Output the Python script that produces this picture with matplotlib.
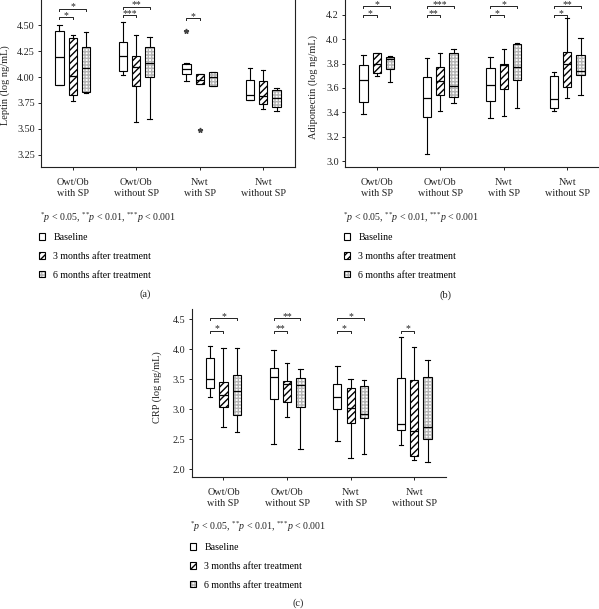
import matplotlib
matplotlib.use("Agg")
import matplotlib.pyplot as plt
from matplotlib.patches import Patch
from matplotlib.ticker import FormatStrFormatter
import numpy as np

plt.rcParams['font.family'] = ['Liberation Serif', 'DejaVu Serif']
plt.rcParams['mathtext.fontset'] = 'custom'
plt.rcParams['mathtext.rm'] = 'Liberation Serif'
plt.rcParams['mathtext.it'] = 'Liberation Serif:italic'
plt.rcParams['hatch.linewidth'] = 1.0

W, H = 599, 609

groups = ["Owt/Ob\nwith SP", "Owt/Ob\nwithout SP", "Nwt\nwith SP", "Nwt\nwithout SP"]
timepoints = ["Baseline", "3 months after treatment", "6 months after treatment"]

# box stats per group: [whisker low, q1, median, q3, whisker high]
leptin_base = [[3.92, 3.92, 4.19, 4.445, 4.50], [4.015, 4.06, 4.20, 4.34, 4.53],
               [3.965, 4.03, 4.08, 4.125, 4.135], [3.78, 3.78, 3.83, 3.97, 4.09]]
leptin_3m = [[3.77, 3.825, 4.01, 4.375, 4.41], [3.57, 3.915, 4.10, 4.20, 4.41],
             [3.935, 3.935, 3.97, 4.025, 4.025], [3.69, 3.74, 3.82, 3.963, 4.07]]
leptin_6m = [[3.845, 3.86, 4.085, 4.295, 4.44], [3.59, 4.00, 4.135, 4.295, 4.39],
             [3.91, 3.91, 4.00, 4.047, 4.047], [3.674, 3.71, 3.80, 3.873, 3.89]]
leptin_fliers = [[[], [], [4.45], []], [[], [], [3.49], []], [[], [], [], []]]
# (group, compared timepoint, bracket height, label)
leptin_sig = [(0, 1, 4.577, "*"), (0, 2, 4.66, "*"), (1, 1, 4.60, "***"),
              (1, 2, 4.68, "**"), (2, 1, 4.567, "*")]

adipo_base = [[3.39, 3.484, 3.662, 3.79, 3.867], [3.06, 3.361, 3.514, 3.686, 3.847],
              [3.358, 3.492, 3.626, 3.76, 3.853], [3.415, 3.44, 3.511, 3.697, 3.727]]
adipo_3m = [[3.697, 3.724, 3.80, 3.888, 3.888], [3.413, 3.544, 3.653, 3.768, 3.888],
            [3.372, 3.588, 3.79, 3.793, 3.916], [3.517, 3.604, 3.80, 3.891, 4.17]]
adipo_6m = [[3.65, 3.752, 3.835, 3.855, 3.86], [3.473, 3.525, 3.618, 3.883, 3.921],
            [3.44, 3.662, 3.768, 3.959, 3.965], [3.544, 3.708, 3.741, 3.867, 4.011]]
adipo_fliers = [[[], [], [], []], [[], [], [], []], [[], [], [], []]]
adipo_sig = [(0, 1, 4.197, "*"), (0, 2, 4.271, "*"), (1, 1, 4.197, "**"), (1, 2, 4.271, "***"),
             (2, 1, 4.197, "*"), (2, 2, 4.271, "*"), (3, 1, 4.197, "*"), (3, 2, 4.271, "**")]

crp_base = [[3.194, 3.344, 3.50, 3.85, 4.044], [2.411, 3.172, 3.528, 3.683, 3.978],
            [2.472, 3.006, 3.194, 3.417, 3.722], [2.406, 2.656, 2.756, 3.511, 4.194]]
crp_3m = [[2.70, 3.028, 3.228, 3.45, 4.017], [2.872, 3.122, 3.42, 3.461, 3.761],
          [2.189, 2.761, 3.011, 3.35, 3.506], [2.156, 2.217, 2.628, 3.483, 4.028]]
crp_6m = [[2.61, 2.906, 3.30, 3.572, 4.017], [2.333, 3.033, 3.394, 3.517, 3.661],
          [2.256, 2.844, 2.917, 3.389, 3.483], [2.117, 2.494, 2.70, 3.533, 3.811]]
crp_fliers = [[[], [], [], []], [[], [], [], []], [[], [], [], []]]
crp_sig = [(0, 1, 4.306, "*"), (0, 2, 4.517, "*"), (1, 1, 4.306, "**"), (1, 2, 4.517, "**"),
           (2, 1, 4.306, "*"), (2, 2, 4.517, "*"), (3, 1, 4.306, "*")]

offsets = [-0.21, 0.0, 0.21]
box_w = 0.13
grid_gray = '#b4b4b4'
ink = '#222'


def draw_panel(ax, series, fliers, sig, ylim, yticks, fmt):
    for k in range(3):
        pos = np.arange(1, 5) + offsets[k]
        bstats = []
        for g in range(4):
            lo, q1, med, q3, hi = series[k][g]
            bstats.append(dict(whislo=lo, q1=q1, med=med, q3=q3, whishi=hi, fliers=fliers[k][g]))
        if k == 2:
            # light dotted-grid fill under the 6-month boxes
            ax.bxp(bstats, positions=pos, widths=box_w, patch_artist=True, showcaps=False,
                   showfliers=False, manage_ticks=False,
                   boxprops=dict(facecolor='white', edgecolor=grid_gray, hatch='+++++', linewidth=0),
                   whiskerprops=dict(linewidth=0), medianprops=dict(linewidth=0))
        face = 'none' if k == 2 else 'white'
        hatch = '/////' if k == 1 else None
        ax.bxp(bstats, positions=pos, widths=box_w, patch_artist=True, manage_ticks=False,
               capwidths=0.07,
               boxprops=dict(facecolor=face, edgecolor='black', hatch=hatch, linewidth=0.8),
               whiskerprops=dict(color='black', linewidth=0.8),
               capprops=dict(color='black', linewidth=0.8),
               medianprops=dict(color='black', linewidth=0.9),
               flierprops=dict(marker='*', markersize=3.5, markerfacecolor='#444',
                               markeredgecolor='#444', linestyle='none'))
    tick = (ylim[1] - ylim[0]) * 0.012
    for g, k, h, label in sig:
        x1 = g + 1 + offsets[0]
        x2 = g + 1 + offsets[k]
        ax.plot([x1, x1, x2, x2], [h - tick, h, h, h - tick], color=ink, lw=0.7)
        ax.text((x1 + x2) / 2, h - tick * 0.4, label, ha='center', va='baseline', fontsize=7,
                color=ink)
    ax.set_xlim(0.5, 4.5)
    ax.set_ylim(*ylim)
    ax.set_yticks(yticks)
    ax.yaxis.set_major_formatter(FormatStrFormatter(fmt))
    ax.set_xticks(np.arange(1, 5))
    ax.set_xticklabels(groups)
    for lab in ax.get_xticklabels():
        lab.set_linespacing(1.2)
    ax.tick_params(labelsize=7.3, length=2.5, width=0.7, pad=2, colors=ink)
    ax.tick_params(axis='x', pad=5.5)
    ax.spines['top'].set_visible(False)
    for s in ax.spines.values():
        s.set_linewidth(0.8)
        s.set_color(ink)


def px_axes(x0, y0, x1, y1):
    return fig.add_axes([x0 / W, 1 - y1 / H, (x1 - x0) / W, (y1 - y0) / H])


def add_notes(x_p, y_p, x_leg, y_leg, cap_x, cap_y, cap):
    fig.text(x_p / W, 1 - y_p / H,
             r"$^{\text{*}}p$ < 0.05, $^{\text{**}}p$ < 0.01, $^{\text{***}}p$ < 0.001",
             va='center', ha='left', fontsize=7.1, color=ink)
    handles = [Patch(facecolor='white', edgecolor='black', lw=0.8),
               Patch(facecolor='white', edgecolor='black', hatch='/////', lw=0.8),
               (Patch(facecolor='white', edgecolor=grid_gray, hatch='+++++', lw=0),
                Patch(facecolor='none', edgecolor='black', lw=0.8))]
    fig.legend(handles, timepoints, loc='upper left', bbox_to_anchor=(x_leg / W, 1 - y_leg / H),
               frameon=False, fontsize=7.1, handlelength=0.6, handleheight=0.6,
               handletextpad=0.85, labelspacing=1.0, borderpad=0, borderaxespad=0)
    fig.text(cap_x / W, 1 - cap_y / H, cap, ha='center', va='center', fontsize=7.5, color=ink)


fig = plt.figure(figsize=(W / 100, H / 100), dpi=100)

ax_a = px_axes(41, 0, 295, 167)
draw_panel(ax_a, [leptin_base, leptin_3m, leptin_6m], leptin_fliers, leptin_sig,
           (3.13, 4.745), [3.25, 3.50, 3.75, 4.00, 4.25, 4.50], '%.2f')
fig.text(5 / W, 1 - 85 / H, "Leptin (log ng/mL)", rotation=90, ha='center', va='center',
         fontsize=7.5, color=ink)
add_notes(40, 218, 39, 233, 145, 294, "(a)")

ax_b = px_axes(345, 0, 599, 167)
draw_panel(ax_b, [adipo_base, adipo_3m, adipo_6m], adipo_fliers, adipo_sig,
           (2.953, 4.32), [3.0, 3.2, 3.4, 3.6, 3.8, 4.0, 4.2], '%.1f')
ax_b.spines['right'].set_visible(False)
fig.text(313 / W, 1 - 87 / H, "Adiponectin (log ng/mL)", rotation=90, ha='center', va='center',
         fontsize=7.5, color=ink)
add_notes(343, 218, 344, 233, 445, 295, "(b)")

ax_c = px_axes(191.7, 309, 446, 477)
draw_panel(ax_c, [crp_base, crp_3m, crp_6m], crp_fliers, crp_sig,
           (1.867, 4.667), [2.0, 2.5, 3.0, 3.5, 4.0, 4.5], '%.1f')
ax_c.spines['right'].set_visible(False)
fig.text(157 / W, 1 - 387 / H, "CRP (log ng/mL)", rotation=90, ha='center', va='center',
         fontsize=7.5, color=ink)
add_notes(190, 527, 190, 543, 298, 603, "(c)")

fig.savefig("out.png", dpi=100)
